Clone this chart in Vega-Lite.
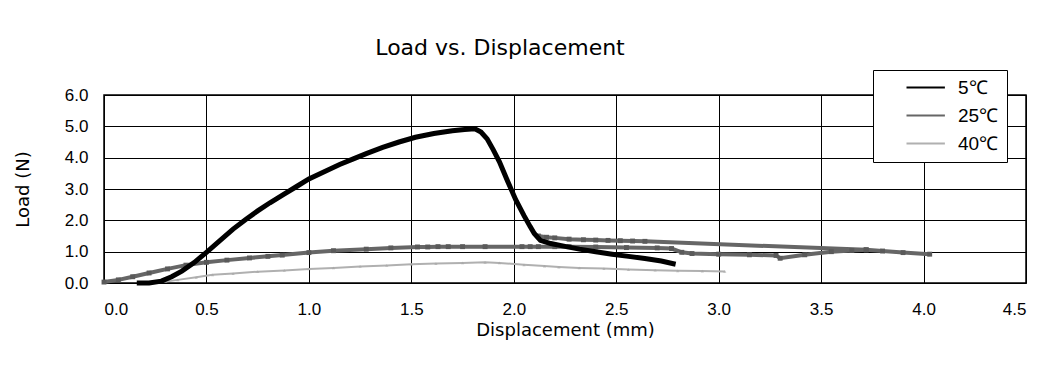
{
  "$schema": "https://vega.github.io/schema/vega-lite/v6.json",
  "width": 922,
  "height": 188,
  "autosize": "none",
  "padding": {"left": 104, "top": 95, "right": 28, "bottom": 89},
  "background": "white",
  "title": {"text": "Load vs. Displacement", "font": "DejaVu Sans", "fontSize": 22, "fontWeight": "normal", "color": "black", "anchor": "middle", "frame": "group", "dx": -65, "dy": 22, "offset": 32},
  "config": {
    "view": {"stroke": "black", "strokeWidth": 1.5},
    "axis": {"labelFont": "Liberation Sans", "labelFontSize": 17, "labelColor": "black", "titleFont": "DejaVu Sans", "titleFontSize": 18, "titleFontWeight": "normal", "titleColor": "black", "grid": true, "gridColor": "black", "gridOpacity": 1, "gridWidth": 1, "domain": false, "ticks": false}
  },
  "data": {"values": [
    {"series":"5℃","seg":"a","i":1,"d":0.16,"load":0.0},
    {"series":"5℃","seg":"a","i":2,"d":0.22,"load":0.0},
    {"series":"5℃","seg":"a","i":3,"d":0.28,"load":0.06},
    {"series":"5℃","seg":"a","i":4,"d":0.33,"load":0.2},
    {"series":"5℃","seg":"a","i":5,"d":0.38,"load":0.38},
    {"series":"5℃","seg":"a","i":6,"d":0.44,"load":0.65},
    {"series":"5℃","seg":"a","i":7,"d":0.5,"load":0.98},
    {"series":"5℃","seg":"a","i":8,"d":0.56,"load":1.32},
    {"series":"5℃","seg":"a","i":9,"d":0.63,"load":1.72},
    {"series":"5℃","seg":"a","i":10,"d":0.69,"load":2.02},
    {"series":"5℃","seg":"a","i":11,"d":0.75,"load":2.3},
    {"series":"5℃","seg":"a","i":12,"d":0.81,"load":2.56},
    {"series":"5℃","seg":"a","i":13,"d":0.875,"load":2.82},
    {"series":"5℃","seg":"a","i":14,"d":0.94,"load":3.08},
    {"series":"5℃","seg":"a","i":15,"d":1.0,"load":3.32},
    {"series":"5℃","seg":"a","i":16,"d":1.08,"load":3.57},
    {"series":"5℃","seg":"a","i":17,"d":1.15,"load":3.78},
    {"series":"5℃","seg":"a","i":18,"d":1.22,"load":3.97},
    {"series":"5℃","seg":"a","i":19,"d":1.28,"load":4.13},
    {"series":"5℃","seg":"a","i":20,"d":1.36,"load":4.33},
    {"series":"5℃","seg":"a","i":21,"d":1.44,"load":4.5},
    {"series":"5℃","seg":"a","i":22,"d":1.52,"load":4.65},
    {"series":"5℃","seg":"a","i":23,"d":1.61,"load":4.77},
    {"series":"5℃","seg":"a","i":24,"d":1.7,"load":4.86},
    {"series":"5℃","seg":"a","i":25,"d":1.76,"load":4.9},
    {"series":"5℃","seg":"a","i":26,"d":1.81,"load":4.92},
    {"series":"5℃","seg":"a","i":27,"d":1.84,"load":4.82},
    {"series":"5℃","seg":"a","i":28,"d":1.87,"load":4.6},
    {"series":"5℃","seg":"a","i":29,"d":1.9,"load":4.25},
    {"series":"5℃","seg":"a","i":30,"d":1.93,"load":3.87},
    {"series":"5℃","seg":"a","i":31,"d":1.97,"load":3.25},
    {"series":"5℃","seg":"a","i":32,"d":2.01,"load":2.65},
    {"series":"5℃","seg":"a","i":33,"d":2.05,"load":2.15},
    {"series":"5℃","seg":"a","i":34,"d":2.08,"load":1.8},
    {"series":"5℃","seg":"a","i":35,"d":2.1,"load":1.58},
    {"series":"5℃","seg":"a","i":36,"d":2.13,"load":1.36},
    {"series":"5℃","seg":"a","i":37,"d":2.18,"load":1.26},
    {"series":"5℃","seg":"a","i":38,"d":2.25,"load":1.17},
    {"series":"5℃","seg":"a","i":39,"d":2.32,"load":1.08},
    {"series":"5℃","seg":"a","i":40,"d":2.4,"load":1.0},
    {"series":"5℃","seg":"a","i":41,"d":2.48,"load":0.92},
    {"series":"5℃","seg":"a","i":42,"d":2.56,"load":0.85},
    {"series":"5℃","seg":"a","i":43,"d":2.64,"load":0.78},
    {"series":"5℃","seg":"a","i":44,"d":2.72,"load":0.7},
    {"series":"5℃","seg":"a","i":45,"d":2.79,"load":0.6},

    {"series":"25℃","seg":"a","i":101,"d":0.0,"load":0.03},
    {"series":"25℃","seg":"a","i":102,"d":0.07,"load":0.1},
    {"series":"25℃","seg":"a","i":103,"d":0.14,"load":0.2},
    {"series":"25℃","seg":"a","i":104,"d":0.22,"load":0.32},
    {"series":"25℃","seg":"a","i":105,"d":0.31,"load":0.45},
    {"series":"25℃","seg":"a","i":106,"d":0.4,"load":0.57},
    {"series":"25℃","seg":"a","i":107,"d":0.5,"load":0.66},
    {"series":"25℃","seg":"a","i":108,"d":0.6,"load":0.73},
    {"series":"25℃","seg":"a","i":109,"d":0.71,"load":0.8},
    {"series":"25℃","seg":"a","i":110,"d":0.8,"load":0.85},
    {"series":"25℃","seg":"a","i":111,"d":0.87,"load":0.89},
    {"series":"25℃","seg":"a","i":112,"d":1.0,"load":0.97},
    {"series":"25℃","seg":"a","i":113,"d":1.12,"load":1.03},
    {"series":"25℃","seg":"a","i":114,"d":1.28,"load":1.08},
    {"series":"25℃","seg":"a","i":115,"d":1.4,"load":1.12},
    {"series":"25℃","seg":"a","i":116,"d":1.53,"load":1.15},
    {"series":"25℃","seg":"a","i":117,"d":1.58,"load":1.15},
    {"series":"25℃","seg":"a","i":118,"d":1.63,"load":1.16},
    {"series":"25℃","seg":"a","i":119,"d":1.68,"load":1.16},
    {"series":"25℃","seg":"a","i":120,"d":1.75,"load":1.16},
    {"series":"25℃","seg":"a","i":121,"d":1.86,"load":1.16},
    {"series":"25℃","seg":"a","i":122,"d":2.04,"load":1.16},
    {"series":"25℃","seg":"a","i":123,"d":2.08,"load":1.16},
    {"series":"25℃","seg":"a","i":124,"d":2.12,"load":1.16},
    {"series":"25℃","seg":"a","i":125,"d":2.2,"load":1.16},
    {"series":"25℃","seg":"a","i":126,"d":2.27,"load":1.16},
    {"series":"25℃","seg":"a","i":127,"d":2.4,"load":1.15},
    {"series":"25℃","seg":"a","i":128,"d":2.55,"load":1.13},
    {"series":"25℃","seg":"a","i":129,"d":2.7,"load":1.12},
    {"series":"25℃","seg":"a","i":130,"d":2.77,"load":1.1},
    {"series":"25℃","seg":"a","i":131,"d":2.82,"load":0.98},
    {"series":"25℃","seg":"a","i":132,"d":2.87,"load":0.94},
    {"series":"25℃","seg":"a","i":133,"d":3.0,"load":0.92},
    {"series":"25℃","seg":"a","i":134,"d":3.15,"load":0.9},
    {"series":"25℃","seg":"a","i":135,"d":3.28,"load":0.88},
    {"series":"25℃","seg":"a","i":136,"d":3.3,"load":0.79},
    {"series":"25℃","seg":"a","i":137,"d":3.42,"load":0.9},
    {"series":"25℃","seg":"a","i":138,"d":3.55,"load":1.0},
    {"series":"25℃","seg":"a","i":139,"d":3.65,"load":1.04},
    {"series":"25℃","seg":"a","i":140,"d":3.72,"load":1.06},
    {"series":"25℃","seg":"a","i":141,"d":3.8,"load":1.02},
    {"series":"25℃","seg":"a","i":142,"d":3.9,"load":0.97},
    {"series":"25℃","seg":"a","i":143,"d":4.03,"load":0.92},
    {"series":"25℃","seg":"b","i":151,"d":2.12,"load":1.5},
    {"series":"25℃","seg":"b","i":152,"d":2.16,"load":1.46},
    {"series":"25℃","seg":"b","i":153,"d":2.2,"load":1.44},
    {"series":"25℃","seg":"b","i":154,"d":2.27,"load":1.4},
    {"series":"25℃","seg":"b","i":155,"d":2.34,"load":1.38},
    {"series":"25℃","seg":"b","i":156,"d":2.4,"load":1.37},
    {"series":"25℃","seg":"b","i":157,"d":2.46,"load":1.36},
    {"series":"25℃","seg":"b","i":158,"d":2.52,"load":1.35},
    {"series":"25℃","seg":"b","i":159,"d":2.58,"load":1.34},
    {"series":"25℃","seg":"b","i":160,"d":2.64,"load":1.33},
    {"series":"25℃","seg":"b","i":161,"d":3.72,"load":1.06},

    {"series":"40℃","seg":"a","i":201,"d":0.3,"load":0.05},
    {"series":"40℃","seg":"a","i":202,"d":0.36,"load":0.1},
    {"series":"40℃","seg":"a","i":203,"d":0.45,"load":0.18},
    {"series":"40℃","seg":"a","i":204,"d":0.53,"load":0.26},
    {"series":"40℃","seg":"a","i":205,"d":0.63,"load":0.3},
    {"series":"40℃","seg":"a","i":206,"d":0.75,"load":0.36},
    {"series":"40℃","seg":"a","i":207,"d":0.88,"load":0.4},
    {"series":"40℃","seg":"a","i":208,"d":1.0,"load":0.45},
    {"series":"40℃","seg":"a","i":209,"d":1.12,"load":0.48},
    {"series":"40℃","seg":"a","i":210,"d":1.25,"load":0.53},
    {"series":"40℃","seg":"a","i":211,"d":1.38,"load":0.56},
    {"series":"40℃","seg":"a","i":212,"d":1.5,"load":0.6},
    {"series":"40℃","seg":"a","i":213,"d":1.62,"load":0.62},
    {"series":"40℃","seg":"a","i":214,"d":1.75,"load":0.64},
    {"series":"40℃","seg":"a","i":215,"d":1.86,"load":0.66},
    {"series":"40℃","seg":"a","i":216,"d":1.93,"load":0.64},
    {"series":"40℃","seg":"a","i":217,"d":2.05,"load":0.58},
    {"series":"40℃","seg":"a","i":218,"d":2.15,"load":0.54},
    {"series":"40℃","seg":"a","i":219,"d":2.22,"load":0.51},
    {"series":"40℃","seg":"a","i":220,"d":2.32,"load":0.48},
    {"series":"40℃","seg":"a","i":221,"d":2.44,"load":0.46},
    {"series":"40℃","seg":"a","i":222,"d":2.56,"load":0.43},
    {"series":"40℃","seg":"a","i":223,"d":2.69,"load":0.41},
    {"series":"40℃","seg":"a","i":224,"d":2.8,"load":0.39},
    {"series":"40℃","seg":"a","i":225,"d":2.92,"load":0.38},
    {"series":"40℃","seg":"a","i":226,"d":3.03,"load":0.37}
  ]},
  "encoding": {
    "x": {"field": "d", "type": "quantitative", "scale": {"domain": [0, 4.5], "nice": false}, "axis": {"values": [0,0.5,1,1.5,2,2.5,3,3.5,4,4.5], "format": ".1f", "labelPadding": 18, "title": "Displacement (mm)", "titlePadding": 4}},
    "y": {"field": "load", "type": "quantitative", "scale": {"domain": [0, 6], "nice": false}, "axis": {"values": [0,1,2,3,4,5,6], "format": ".1f", "labelPadding": 16, "title": "Load (N)", "titlePadding": 32}}
  },
  "layer": [
    {
      "transform": [{"filter": "datum.series == '40℃'"}],
      "mark": {"type": "line", "strokeWidth": 2},
      "encoding": {
        "color": {"field": "series", "type": "nominal", "scale": {"domain": ["5℃","25℃","40℃"], "range": ["#000000","#666666","#b0b0b0"]},
          "legend": {"title": null, "orient": "none", "legendX": 769, "legendY": -25, "strokeColor": "black", "fillColor": "white", "padding": 8, "rowPadding": 8,
            "symbolType": "M2,0H6.8", "symbolSize": 256, "symbolStrokeWidth": 2, "symbolOffset": 0, "labelOffset": 58, "labelAlign": "left",
            "labelFont": "Liberation Sans", "labelFontSize": 19, "labelColor": "black"}},
        "detail": {"field": "seg"},
        "order": {"field": "i"}
      }
    },
    {
      "transform": [{"filter": "datum.series == '40℃'"}],
      "mark": {"type": "point", "shape": "triangle-up", "filled": true, "size": 10, "color": "#a8a8a8"},
      "encoding": {}
    },
    {
      "transform": [{"filter": "datum.series == '25℃'"}],
      "mark": {"type": "line", "strokeWidth": 4},
      "encoding": {
        "color": {"field": "series", "type": "nominal"},
        "detail": {"field": "seg"},
        "order": {"field": "i"}
      }
    },
    {
      "transform": [{"filter": "datum.series == '25℃'"}],
      "mark": {"type": "point", "shape": "square", "filled": true, "size": 24, "color": "#5a5a5a", "opacity": 1},
      "encoding": {}
    },
    {
      "transform": [{"filter": "datum.series == '5℃'"}],
      "mark": {"type": "line", "strokeWidth": 5},
      "encoding": {
        "color": {"field": "series", "type": "nominal"},
        "detail": {"field": "seg"},
        "order": {"field": "i"}
      }
    }
  ]
}
